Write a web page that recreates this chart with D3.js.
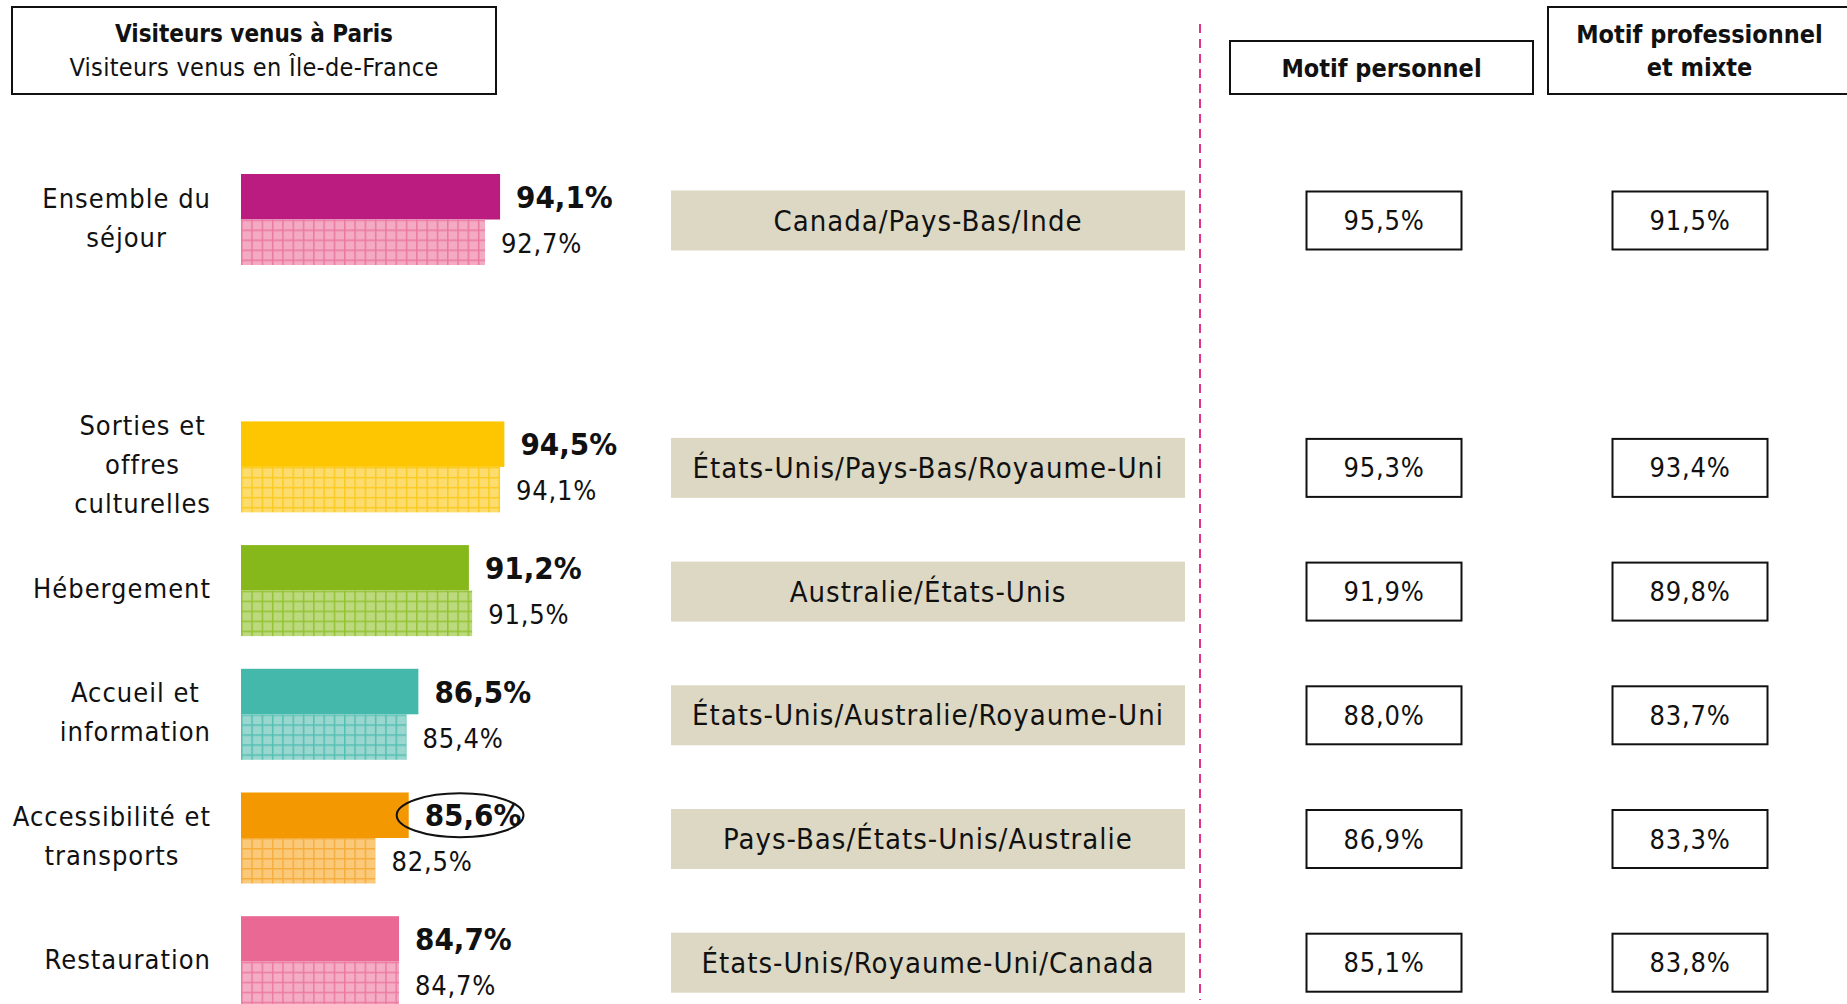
<!DOCTYPE html>
<html>
<head>
<meta charset="utf-8">
<script src="https://cdn.jsdelivr.net/npm/d3@7"></script>
<style>
  html, body { margin: 0; padding: 0; background: #fff; }
  svg text { font-family: "DejaVu Sans Condensed", "DejaVu Sans", sans-serif; font-stretch: condensed; fill: #111; }
</style>
</head>
<body>
<svg id="chart" width="1847" height="1004"></svg>
<script>
// ---------- DATA ----------
const categories = ["Ensemble du séjour", "Sorties et offres culturelles", "Hébergement",
  "Accueil et information", "Accessibilité et transports", "Restauration"];
const categoryLines = [["Ensemble du", "séjour"], ["Sorties et", "offres", "culturelles"], ["Hébergement"],
  ["Accueil et", "information"], ["Accessibilité et", "transports"], ["Restauration"]];
const parisValues = [94.1, 94.5, 91.2, 86.5, 85.6, 84.7];
const idfValues   = [92.7, 94.1, 91.5, 85.4, 82.5, 84.7];
const topCountries = ["Canada/Pays-Bas/Inde", "États-Unis/Pays-Bas/Royaume-Uni", "Australie/États-Unis",
  "États-Unis/Australie/Royaume-Uni", "Pays-Bas/États-Unis/Australie", "États-Unis/Royaume-Uni/Canada"];
const personnelValues = [95.5, 95.3, 91.9, 88.0, 86.9, 85.1];
const proValues       = [91.5, 93.4, 89.8, 83.7, 83.3, 83.8];
const highlighted = "Accessibilité et transports";
const strongColors = ["#bb1c7f", "#fec600", "#86b81b", "#45b8ac", "#f39800", "#e96894"];
const lightColors  = ["#f5b5ca", "#fde07e", "#c5de8e", "#a8dcd5", "#fbcf86", "#f5b7cb"];
const gridColors   = ["#eb78a1", "#fbca22", "#92c232", "#55bfb3", "#f6ad3e", "#ec7aa2"];
const titleLines = ["Visiteurs venus à Paris", "Visiteurs venus en Île-de-France"];
const headerPerso = ["Motif personnel"];
const headerPro = ["Motif professionnel", "et mixte"];

// ---------- SETUP ----------
const svg = d3.select("#chart");
const fr = d3.formatLocale({decimal: ",", thousands: " ", grouping: [3], currency: ["", " €"]});
const fmt = v => fr.format(".1f")(v) + "%";

const slotKeys = [categories[0], "__gap", ...categories.slice(1)];
const y = d3.scaleBand().domain(slotKeys).range([174, 174 + 7 * 123.7]);
const x = d3.scaleLinear().domain([70, 100]).range([241, 563.5]);
const barH = 45.5;
const rows = categories.map((c, i) => ({
  cat: c, lines: categoryLines[i], paris: parisValues[i], idf: idfValues[i],
  country: topCountries[i], perso: personnelValues[i], pro: proValues[i], i
}));
const mid = d => y(d.cat) + barH;

// ---------- PATTERNS ----------
const defs = svg.append("defs");
rows.forEach(d => {
  const dots = defs.append("pattern").attr("id", "dots" + d.i)
    .attr("width", 2).attr("height", 2).attr("patternUnits", "userSpaceOnUse");
  dots.append("rect").attr("width", 2).attr("height", 2).attr("fill", lightColors[d.i]);
  dots.append("rect").attr("width", 1).attr("height", 1).attr("fill", gridColors[d.i]).attr("opacity", 0.35);
  dots.append("rect").attr("x", 1).attr("y", 1).attr("width", 1).attr("height", 1).attr("fill", gridColors[d.i]).attr("opacity", 0.35);
  const p = defs.append("pattern").attr("id", "grid" + d.i)
    .attr("patternUnits", "userSpaceOnUse")
    .attr("x", x(70)).attr("y", y(d.cat) + barH)
    .attr("width", 10.3).attr("height", 10);
  p.append("rect").attr("width", 10.3).attr("height", 10).attr("fill", "url(#dots" + d.i + ")");
  p.append("rect").attr("width", 10.3).attr("height", 1.5).attr("fill", gridColors[d.i]);
  p.append("rect").attr("width", 1.5).attr("height", 10).attr("fill", gridColors[d.i]);
});

// ---------- HEADERS ----------
function headerBox(x0, y0, w, h, lines, weights, sizes, lineYs, spacing) {
  svg.append("rect").attr("x", x0).attr("y", y0).attr("width", w).attr("height", h)
    .attr("fill", "#fff").attr("stroke", "#111").attr("stroke-width", 2);
  lines.forEach((t, k) => {
    svg.append("text").attr("x", x0 + w / 2).attr("y", lineYs[k])
      .attr("text-anchor", "middle").attr("dominant-baseline", "central")
      .attr("letter-spacing", spacing[k])
      .attr("font-size", sizes[k]).attr("font-weight", weights[k]).text(t);
  });
}
headerBox(12, 7, 484, 87, titleLines, ["bold", "normal"], [24, 25], [34, 67], [0, 0.3]);
headerBox(1230, 41, 303, 53, headerPerso, ["bold"], [25], [68], [0]);
headerBox(1548, 7, 303, 87, headerPro, ["bold", "bold"], [25, 25], [34, 67], [0, 0]);

// dashed separator
svg.append("line").attr("x1", 1200).attr("x2", 1200).attr("y1", 24).attr("y2", 1000)
  .attr("stroke", "#e0338f").attr("stroke-width", 2).attr("stroke-dasharray", "9,6");

// ---------- ROWS ----------
const g = svg.selectAll("g.row").data(rows).join("g").attr("class", "row");

// category labels: block right-aligned, lines centred within the block
g.each(function(d) {
  const n = d.lines.length, lh = 39;
  const t = d3.select(this).append("text").attr("text-anchor", "end").attr("font-size", 27)
    .attr("letter-spacing", 1);
  const spans = d.lines.map((line, k) =>
    t.append("tspan").attr("x", 211).attr("y", mid(d) + (k - (n - 1) / 2) * lh - 2)
      .attr("dominant-baseline", "central").text(line));
  const w = d3.max(spans, s => s.node().getComputedTextLength());
  t.attr("text-anchor", "middle");
  spans.forEach(s => s.attr("x", 211 - w / 2));
});

// bars
g.append("rect").attr("x", x(70)).attr("y", d => y(d.cat))
  .attr("width", d => x(d.paris) - x(70)).attr("height", barH)
  .attr("fill", d => strongColors[d.i]);
g.append("rect").attr("x", x(70)).attr("y", d => y(d.cat) + barH)
  .attr("width", d => x(d.idf) - x(70)).attr("height", barH)
  .attr("fill", d => "url(#grid" + d.i + ")");

// value labels
g.append("text").attr("class", "vparis")
  .attr("x", d => x(d.paris) + 16).attr("y", d => y(d.cat) + barH / 2)
  .attr("dominant-baseline", "central").attr("font-size", 31).attr("font-weight", "bold")
  .text(d => fmt(d.paris));
g.append("text")
  .attr("x", d => x(d.idf) + 16).attr("y", d => y(d.cat) + barH * 1.5 + 1)
  .attr("dominant-baseline", "central").attr("font-size", 27).attr("letter-spacing", 0.8)
  .text(d => fmt(d.idf));

// highlight ellipse
g.filter(d => d.cat === highlighted).each(function(d) {
  const bb = d3.select(this).select("text.vparis").node().getBBox();
  const left = bb.x - 28, right = bb.x + bb.width + 2;
  d3.select(this).append("ellipse")
    .attr("cx", (left + right) / 2).attr("cy", y(d.cat) + barH / 2)
    .attr("rx", (right - left) / 2).attr("ry", 22)
    .attr("fill", "none").attr("stroke", "#111").attr("stroke-width", 2);
});

// country bands
g.append("rect").attr("x", 671).attr("width", 514).attr("y", d => mid(d) - 29).attr("height", 60)
  .attr("fill", "#ddd8c3");
g.append("text").attr("x", 671 + 257).attr("y", d => mid(d) + 1)
  .attr("text-anchor", "middle").attr("dominant-baseline", "central").attr("font-size", 29)
  .attr("letter-spacing", 1)
  .text(d => d.country);

// value boxes
[[d => d.perso, 1384], [d => d.pro, 1690]].forEach(([acc, cx]) => {
  g.append("rect").attr("x", cx - 77.5).attr("width", 155).attr("y", d => mid(d) - 28).attr("height", 58)
    .attr("fill", "#fff").attr("stroke", "#111").attr("stroke-width", 2);
  g.append("text").attr("x", cx).attr("y", d => mid(d) + 1)
    .attr("text-anchor", "middle").attr("dominant-baseline", "central").attr("font-size", 27)
    .attr("letter-spacing", 0.8)
    .text(d => fmt(acc(d)));
});
</script>
</body>
</html>
